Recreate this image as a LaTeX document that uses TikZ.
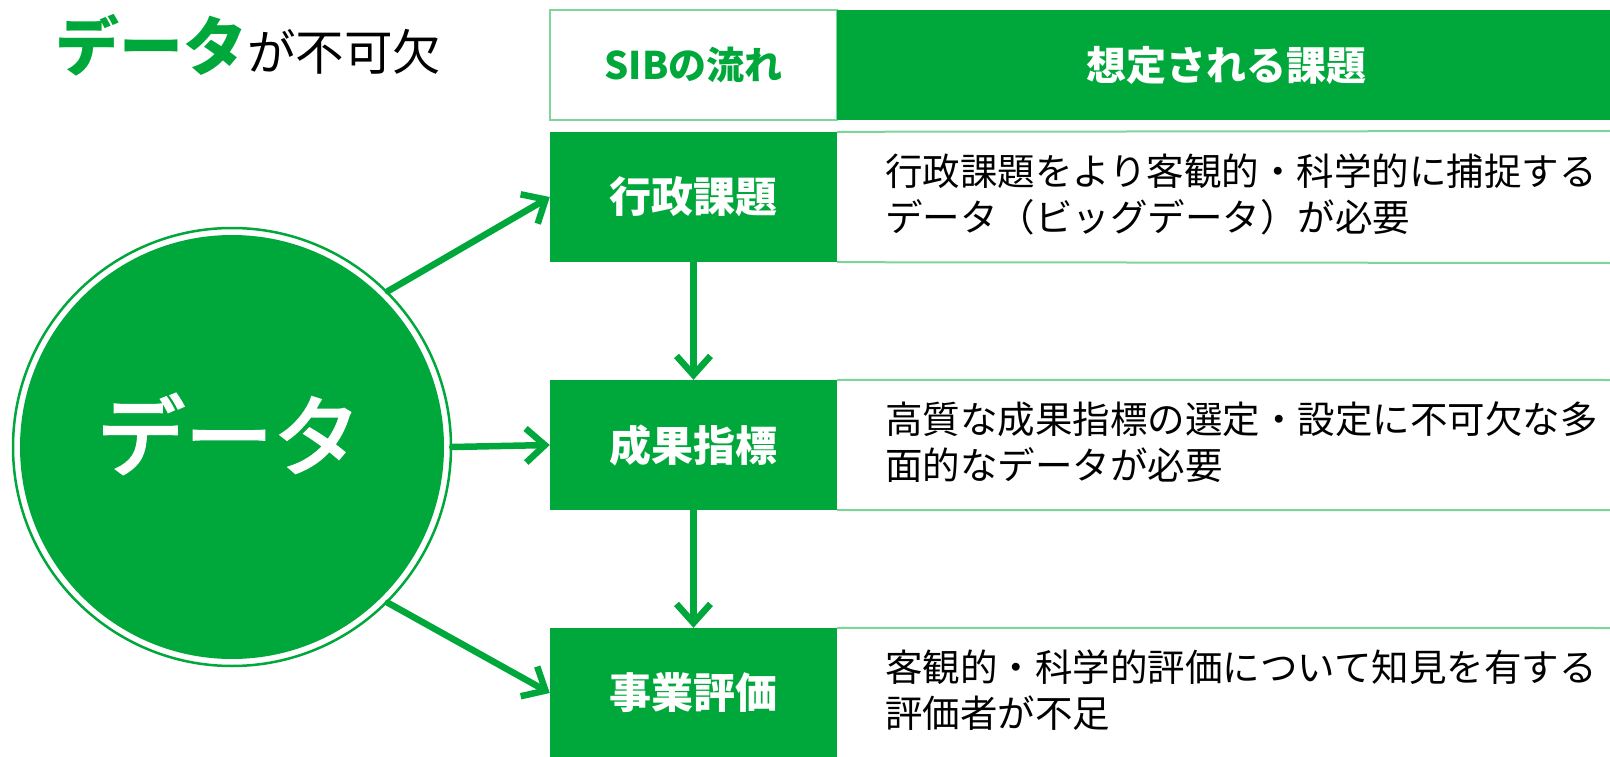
\documentclass[tikz,border=0pt]{standalone}
\usepackage{fontspec}
\setmainfont{Noto Sans CJK JP}
\newfontfamily\heavyjp{Noto Sans CJK JP}[FakeBold=3]
\usetikzlibrary{arrows.meta}
\definecolor{dgreen}{HTML}{00A83C}
\definecolor{lgreen}{HTML}{7FD49A}
\tikzset{
  flowarrow/.style={draw=dgreen, line width=6.5pt, line cap=round, line join=round,
    -{Straight Barb[length=19pt,width=34pt]}},
  labelbox/.style={fill=dgreen, minimum width=287pt, minimum height=130pt, inner sep=0pt,
    text=white, font=\bfseries\fontsize{42}{42}\selectfont},
  desc/.style={anchor=west, align=left, inner sep=0pt, text=black,
    font=\fontsize{37.5}{46}\selectfont},
  border/.style={draw=lgreen, line width=2pt}
}
\begin{document}
\begin{tikzpicture}[x=1pt,y=-1pt]
\useasboundingbox (0,0) rectangle (1610,757);
% title
\node[anchor=base west, inner sep=0pt] (title) at (55,71)
  {{\bfseries\color{dgreen}\fontsize{64}{64}\selectfont データ}{\fontsize{48.5}{48.5}\selectfont が不可欠}};
% circle
\fill[dgreen] (232,447) circle[radius=212];
\node[circle, draw=dgreen, line width=2.5pt, minimum size=438pt, inner sep=0pt] (data) at (232,447) {};
\node[text=white, inner sep=0pt, font=\heavyjp\fontsize{88}{88}\selectfont] (datatext)
  at ([xshift=-3pt,yshift=13pt]data.center) {データ};
% header
\node[border, fill=white, minimum width=287pt, minimum height=110pt, inner sep=0pt,
  text=dgreen, font=\bfseries\fontsize{38}{38}\selectfont] (hsib) at (693.5,65) {SIBの流れ};
\fill[dgreen] (837,10) rectangle (1610,120);
\node[text=white, inner sep=0pt, font=\bfseries\fontsize{40}{40}\selectfont] (hissue) at (1226,65) {想定される課題};
% rows
\node[labelbox] (r1) at (693.5,197) {行政課題};
\node[labelbox] (r2) at (693.5,445) {成果指標};
\node[labelbox] (r3) at (693.5,693) {事業評価};
\draw[border] (r1.north east) -- (1610,131);
\draw[border] (r1.south east) -- (1610,263);
\draw[border] (r2.north east) -- (1610,380);
\draw[border] (r2.south east) -- (1610,510);
\draw[border] (r3.north east) -- (1610,628);
\node[desc] (d1) at (885,194) {行政課題をより客観的・科学的に捕捉する\\データ（ビッグデータ）が必要};
\node[desc] (d2) at (885,442) {高質な成果指標の選定・設定に不可欠な多\\面的なデータが必要};
\node[desc] (d3) at (885,690) {客観的・科学的評価について知見を有する\\評価者が不足};
% arrows
\draw[flowarrow] (data.45) -- (r1.west);
\draw[flowarrow] (data.east) -- (r2.west);
\draw[flowarrow] (data.-45) -- (r3.west);
\draw[flowarrow] (r1.south) -- (r2.north);
\draw[flowarrow] (r2.south) -- (r3.north);
\end{tikzpicture}
\end{document}
